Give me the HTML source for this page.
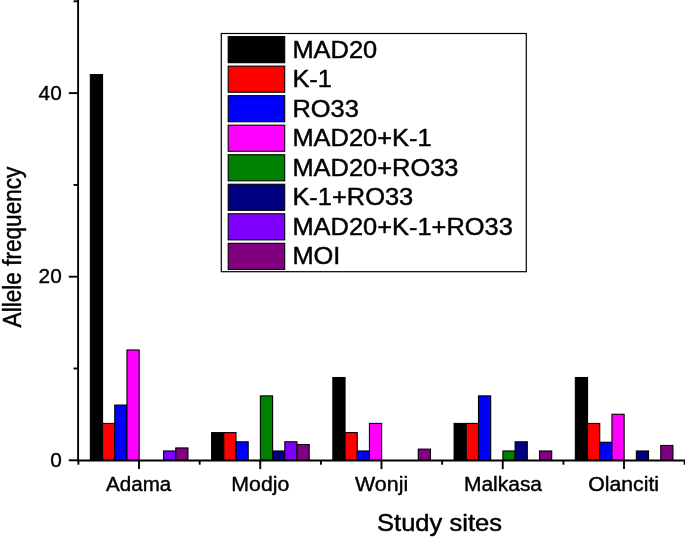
<!DOCTYPE html>
<html><head><meta charset="utf-8"><title>chart</title>
<style>html,body{margin:0;padding:0;background:#fff}body{width:685px;height:539px;overflow:hidden}</style></head>
<body>
<svg width="685" height="539" viewBox="0 0 685 539" style="display:block;will-change:transform;font-family:'Liberation Sans',sans-serif">
<rect width="685" height="539" fill="#fff"/>
<rect x="90.35" y="74.59" width="12.20" height="385.71" fill="#000000" stroke="#000" stroke-width="1.1"/>
<rect x="102.55" y="423.43" width="12.20" height="36.87" fill="#ff0000" stroke="#000" stroke-width="1.1"/>
<rect x="114.75" y="405.07" width="12.20" height="55.23" fill="#0000ff" stroke="#000" stroke-width="1.1"/>
<rect x="126.95" y="349.99" width="12.20" height="110.31" fill="#ff00ff" stroke="#000" stroke-width="1.1"/>
<rect x="163.55" y="450.97" width="12.20" height="9.33" fill="#8000ff" stroke="#000" stroke-width="1.1"/>
<rect x="175.75" y="447.94" width="12.20" height="12.36" fill="#800080" stroke="#000" stroke-width="1.1"/>
<rect x="211.60" y="432.61" width="12.20" height="27.69" fill="#000000" stroke="#000" stroke-width="1.1"/>
<rect x="223.80" y="432.61" width="12.20" height="27.69" fill="#ff0000" stroke="#000" stroke-width="1.1"/>
<rect x="236.00" y="441.79" width="12.20" height="18.51" fill="#0000ff" stroke="#000" stroke-width="1.1"/>
<rect x="260.40" y="395.89" width="12.20" height="64.41" fill="#008000" stroke="#000" stroke-width="1.1"/>
<rect x="272.60" y="450.97" width="12.20" height="9.33" fill="#000080" stroke="#000" stroke-width="1.1"/>
<rect x="284.80" y="441.79" width="12.20" height="18.51" fill="#8000ff" stroke="#000" stroke-width="1.1"/>
<rect x="297.00" y="444.54" width="12.20" height="15.76" fill="#800080" stroke="#000" stroke-width="1.1"/>
<rect x="332.85" y="377.53" width="12.20" height="82.77" fill="#000000" stroke="#000" stroke-width="1.1"/>
<rect x="345.05" y="432.61" width="12.20" height="27.69" fill="#ff0000" stroke="#000" stroke-width="1.1"/>
<rect x="357.25" y="450.97" width="12.20" height="9.33" fill="#0000ff" stroke="#000" stroke-width="1.1"/>
<rect x="369.45" y="423.43" width="12.20" height="36.87" fill="#ff00ff" stroke="#000" stroke-width="1.1"/>
<rect x="418.25" y="449.13" width="12.20" height="11.17" fill="#800080" stroke="#000" stroke-width="1.1"/>
<rect x="454.10" y="423.43" width="12.20" height="36.87" fill="#000000" stroke="#000" stroke-width="1.1"/>
<rect x="466.30" y="423.43" width="12.20" height="36.87" fill="#ff0000" stroke="#000" stroke-width="1.1"/>
<rect x="478.50" y="395.89" width="12.20" height="64.41" fill="#0000ff" stroke="#000" stroke-width="1.1"/>
<rect x="502.90" y="450.97" width="12.20" height="9.33" fill="#008000" stroke="#000" stroke-width="1.1"/>
<rect x="515.10" y="441.79" width="12.20" height="18.51" fill="#000080" stroke="#000" stroke-width="1.1"/>
<rect x="539.50" y="450.97" width="12.20" height="9.33" fill="#800080" stroke="#000" stroke-width="1.1"/>
<rect x="575.35" y="377.53" width="12.20" height="82.77" fill="#000000" stroke="#000" stroke-width="1.1"/>
<rect x="587.55" y="423.43" width="12.20" height="36.87" fill="#ff0000" stroke="#000" stroke-width="1.1"/>
<rect x="599.75" y="442.25" width="12.20" height="18.05" fill="#0000ff" stroke="#000" stroke-width="1.1"/>
<rect x="611.95" y="414.25" width="12.20" height="46.05" fill="#ff00ff" stroke="#000" stroke-width="1.1"/>
<rect x="636.35" y="450.97" width="12.20" height="9.33" fill="#000080" stroke="#000" stroke-width="1.1"/>
<rect x="660.75" y="445.46" width="12.20" height="14.84" fill="#800080" stroke="#000" stroke-width="1.1"/>
<g stroke="#000" stroke-width="1.9" fill="none">
<path d="M78.1 0 V461.3"/>
<path d="M77.1 460.5 H685"/>
<path d="M68.8 460.30 H78.1"/>
<path d="M73.5 368.50 H78.1"/>
<path d="M68.8 276.70 H78.1"/>
<path d="M73.5 184.90 H78.1"/>
<path d="M68.8 93.10 H78.1"/>
<path d="M73.5 1.30 H78.1"/>
<path d="M139.00 460.3 V469.1"/>
<path d="M260.25 460.3 V469.1"/>
<path d="M381.50 460.3 V469.1"/>
<path d="M502.75 460.3 V469.1"/>
<path d="M624.00 460.3 V469.1"/>
<path d="M78.40 460.3 V464.7"/>
<path d="M199.65 460.3 V464.7"/>
<path d="M320.90 460.3 V464.7"/>
<path d="M442.15 460.3 V464.7"/>
<path d="M563.40 460.3 V464.7"/>
<path d="M684.65 460.3 V464.7"/>
</g>
<text transform="translate(61.7 467.00) scale(1.01 1)" font-size="20.6" text-anchor="end" stroke="#000" stroke-width="0.35" stroke-linejoin="round">0</text>
<text transform="translate(61.7 283.40) scale(1.01 1)" font-size="20.6" text-anchor="end" stroke="#000" stroke-width="0.35" stroke-linejoin="round">20</text>
<text transform="translate(61.7 99.80) scale(1.01 1)" font-size="20.6" text-anchor="end" stroke="#000" stroke-width="0.35" stroke-linejoin="round">40</text>
<text transform="translate(138.70 491.0) scale(1.05 1)" font-size="19.6" text-anchor="middle" stroke="#000" stroke-width="0.4" stroke-linejoin="round">Adama</text>
<text transform="translate(260.30 491.0) scale(1.085 1)" font-size="19.6" text-anchor="middle" stroke="#000" stroke-width="0.4" stroke-linejoin="round">Modjo</text>
<text transform="translate(381.60 491.0) scale(1.09 1)" font-size="19.6" text-anchor="middle" stroke="#000" stroke-width="0.4" stroke-linejoin="round">Wonji</text>
<text transform="translate(503.00 491.0) scale(1.07 1)" font-size="19.6" text-anchor="middle" stroke="#000" stroke-width="0.4" stroke-linejoin="round">Malkasa</text>
<text transform="translate(623.60 491.0) scale(1.085 1)" font-size="19.6" text-anchor="middle" stroke="#000" stroke-width="0.4" stroke-linejoin="round">Olanciti</text>
<text transform="translate(439.5 530.5) scale(1.088 1)" font-size="23.5" text-anchor="middle" stroke="#000" stroke-width="0.45" stroke-linejoin="round">Study sites</text>
<text transform="translate(20.9 247.0) rotate(-90) scale(1.005 1.13)" font-size="22.5" text-anchor="middle" stroke="#000" stroke-width="0.4" stroke-linejoin="round">Allele frequency</text>
<rect x="221.3" y="33.5" width="305" height="238.2" fill="#fff" stroke="#000" stroke-width="1.2"/>
<rect x="228.2" y="36.60" width="56.5" height="26.1" fill="#000000" stroke="#000" stroke-width="1.1"/>
<text transform="translate(292.4 57.60) scale(1.073 1)" font-size="23.7" stroke="#000" stroke-width="0.45" stroke-linejoin="round">MAD20</text>
<rect x="228.2" y="66.13" width="56.5" height="26.1" fill="#ff0000" stroke="#000" stroke-width="1.1"/>
<text transform="translate(292.4 87.13) scale(1.073 1)" font-size="23.7" stroke="#000" stroke-width="0.45" stroke-linejoin="round">K-1</text>
<rect x="228.2" y="95.66" width="56.5" height="26.1" fill="#0000ff" stroke="#000" stroke-width="1.1"/>
<text transform="translate(292.4 116.66) scale(1.073 1)" font-size="23.7" stroke="#000" stroke-width="0.45" stroke-linejoin="round">RO33</text>
<rect x="228.2" y="125.19" width="56.5" height="26.1" fill="#ff00ff" stroke="#000" stroke-width="1.1"/>
<text transform="translate(292.4 146.19) scale(1.073 1)" font-size="23.7" stroke="#000" stroke-width="0.45" stroke-linejoin="round">MAD20+K-1</text>
<rect x="228.2" y="154.72" width="56.5" height="26.1" fill="#008000" stroke="#000" stroke-width="1.1"/>
<text transform="translate(292.4 175.72) scale(1.073 1)" font-size="23.7" stroke="#000" stroke-width="0.45" stroke-linejoin="round">MAD20+RO33</text>
<rect x="228.2" y="184.25" width="56.5" height="26.1" fill="#000080" stroke="#000" stroke-width="1.1"/>
<text transform="translate(292.4 205.25) scale(1.073 1)" font-size="23.7" stroke="#000" stroke-width="0.45" stroke-linejoin="round">K-1+RO33</text>
<rect x="228.2" y="213.78" width="56.5" height="26.1" fill="#8000ff" stroke="#000" stroke-width="1.1"/>
<text transform="translate(292.4 234.78) scale(1.073 1)" font-size="23.7" stroke="#000" stroke-width="0.45" stroke-linejoin="round">MAD20+K-1+RO33</text>
<rect x="228.2" y="243.31" width="56.5" height="26.1" fill="#800080" stroke="#000" stroke-width="1.1"/>
<text transform="translate(292.4 264.31) scale(1.073 1)" font-size="23.7" stroke="#000" stroke-width="0.45" stroke-linejoin="round">MOI</text>
</svg>
</body></html>
